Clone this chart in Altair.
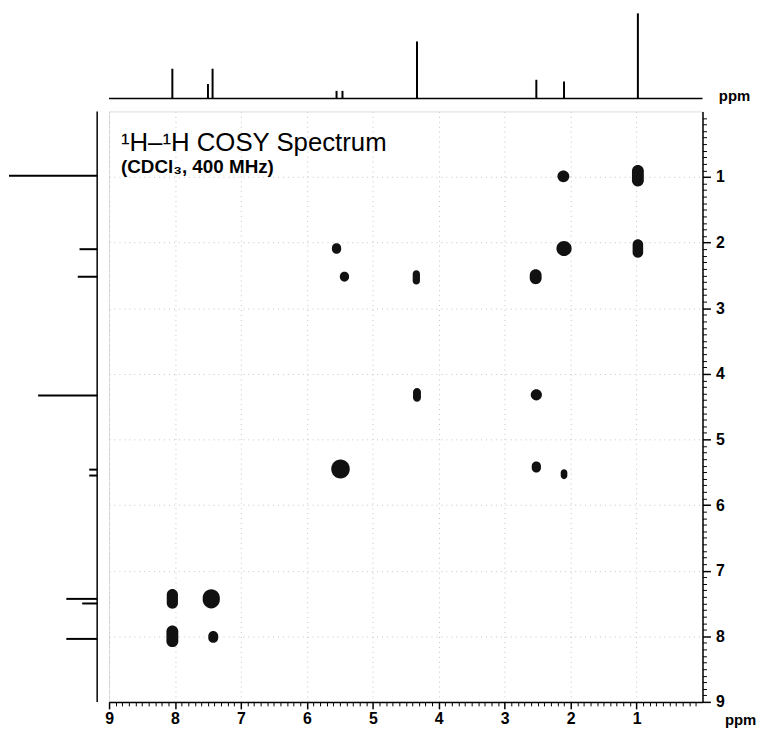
import altair as alt
import pandas as pd

# ---------------- data ----------------
# 1D projection spectrum: chemical shift (ppm) and relative intensity
peak_ppm = [8.04, 7.50, 7.43, 5.55, 5.46, 4.33, 2.52, 2.10, 0.98]
peak_int = [35, 17, 35, 9, 9, 67, 22, 20, 100]
spec_range = [9.0, 0.0]

# COSY cross peaks: F2 shift (x), F1 shift (y), contour extent in ppm
cp_f2 = [0.98, 2.11, 2.10, 0.98, 2.53, 5.55, 5.43, 4.34, 4.33, 2.52, 5.49, 2.52, 2.10, 8.04, 7.45, 8.04, 7.42]
cp_f1 = [0.98, 0.99, 2.09, 2.09, 2.52, 2.09, 2.52, 2.53, 4.32, 4.32, 5.45, 5.42, 5.53, 7.43, 7.43, 8.00, 8.01]
cp_wx = [0.18, 0.18, 0.23, 0.16, 0.18, 0.14, 0.14, 0.11, 0.12, 0.17, 0.28, 0.14, 0.10, 0.17, 0.26, 0.18, 0.15]
cp_wy = [0.33, 0.18, 0.23, 0.28, 0.23, 0.16, 0.15, 0.22, 0.21, 0.17, 0.29, 0.17, 0.15, 0.30, 0.29, 0.33, 0.18]

major_ticks = [1, 2, 3, 4, 5, 6, 7, 8, 9]
minor_ticks = [round(i * 0.1, 1) for i in range(1, 90) if i % 10 != 0]

title_text = "\u00b9H\u2013\u00b9H COSY Spectrum"
subtitle_text = "(CDCl\u2083, 400 MHz)"

# ---------------- layout ----------------
W, H = 599, 596
FONT = "Liberation Sans"

# top projection: baseline 13 px above plot, 0.86 px per intensity unit
k_top, base_top = 0.86, 13
top_lo = -(base_top + H) / k_top
top_hi = -base_top / k_top
# left projection: baseline 12 px left of plot, 0.89 px per intensity unit
k_left, base_left = 0.89, 12
left_hi = -base_left / k_left
left_lo = left_hi - W / k_left

xs_main = alt.Scale(domain=[0, 9], reverse=True, nice=False, zero=False)
ys_main = alt.Scale(domain=[0, 9], reverse=True, nice=False, zero=False)

axis_common = dict(
    labelFont=FONT, labelFontSize=16, labelFontWeight="bold", labelColor="black",
    labelFlush=False, labelOverlap=False, format="d",
    tickColor="black", tickWidth=1.5, domainColor="black", domainWidth=1.5,
    grid=True, gridColor="#c4c4c4", gridDash=[1, 4], gridWidth=1,
)
major_x_axis = alt.Axis(
    orient="bottom", values=major_ticks, tickSize=7, labelPadding=2,
    title="ppm", titleFont=FONT, titleFontSize=15, titleFontWeight="bold", titleColor="black",
    titleX=W + 38, titleY=18, titleAlign="center", titleBaseline="middle", titleAngle=0,
    **axis_common,
)
major_y_axis = alt.Axis(
    orient="right", values=major_ticks, tickSize=8, labelPadding=5, title=None,
    **axis_common,
)
minor_x_axis = alt.Axis(orient="bottom", values=minor_ticks, tickSize=4, tickColor="black",
                        tickWidth=1, labels=False, domain=False, grid=False, title=None)
minor_y_axis = alt.Axis(orient="right", values=minor_ticks, tickSize=4, tickColor="black",
                        tickWidth=1, labels=False, domain=False, grid=False, title=None)

cp_df = pd.DataFrame({"f2": cp_f2, "f1": cp_f1, "wx": cp_wx, "wy": cp_wy})
spec_df = pd.DataFrame({"ppm": peak_ppm, "inten": peak_int})
base_df = pd.DataFrame({"start": [spec_range[0]], "end": [spec_range[1]]})

# ---------------- 2D COSY map ----------------
minor = alt.Chart(cp_df).mark_point(opacity=0).encode(
    x=alt.X("f2:Q", scale=xs_main, axis=minor_x_axis),
    y=alt.Y("f1:Q", scale=ys_main, axis=minor_y_axis),
)
cross = alt.Chart(cp_df).transform_calculate(
    xa="datum.f2 - datum.wx / 2", xb="datum.f2 + datum.wx / 2",
    ya="datum.f1 - datum.wy / 2", yb="datum.f1 + datum.wy / 2",
).mark_rect(color="#111111", cornerRadius=20).encode(
    x=alt.X("xa:Q", scale=xs_main, axis=major_x_axis),
    x2="xb:Q",
    y=alt.Y("ya:Q", scale=ys_main, axis=major_y_axis),
    y2="yb:Q",
)
inner = alt.layer(minor, cross).resolve_axis(x="independent", y="independent")

# ---------------- top projection ----------------
top_ys = alt.Scale(domain=[top_lo, top_hi], nice=False, zero=False)
top_axis = alt.Axis(orient="top", labels=False, ticks=False, domain=False, grid=False,
                    title="ppm", titleFont=FONT, titleFontSize=15, titleFontWeight="bold",
                    titleColor="black", titleX=W + 16, titleY=-16, titleAlign="left",
                    titleBaseline="middle", titleAngle=0)
top_sticks = alt.Chart(spec_df).transform_calculate(base="0").mark_rule(
    color="black", strokeWidth=2).encode(
    x=alt.X("ppm:Q", scale=xs_main, axis=top_axis),
    y=alt.Y("base:Q", scale=top_ys, axis=None),
    y2="inten:Q",
)
top_base = alt.Chart(base_df).transform_calculate(lvl="0").mark_rule(
    color="black", strokeWidth=1.5).encode(
    x=alt.X("start:Q", scale=xs_main, axis=top_axis),
    x2="end:Q",
    y=alt.Y("lvl:Q", scale=top_ys, axis=None),
)
top = alt.layer(top_base, top_sticks)

# ---------------- left projection ----------------
left_xs = alt.Scale(domain=[left_lo, left_hi], reverse=True, nice=False, zero=False)
left_sticks = alt.Chart(spec_df).transform_calculate(base="0").mark_rule(
    color="black", strokeWidth=2).encode(
    y=alt.Y("ppm:Q", scale=ys_main, axis=None),
    x=alt.X("base:Q", scale=left_xs, axis=None),
    x2="inten:Q",
)
left_base = alt.Chart(base_df).transform_calculate(lvl="0").mark_rule(
    color="black", strokeWidth=1.5).encode(
    y=alt.Y("start:Q", scale=ys_main, axis=None),
    y2="end:Q",
    x=alt.X("lvl:Q", scale=left_xs, axis=None),
)
left = alt.layer(left_base, left_sticks)

chart = alt.layer(inner, top, left).resolve_scale(
    x="independent", y="independent"
).properties(
    width=W, height=H,
    padding={"left": 0, "top": 0, "right": 0, "bottom": 0},
    title=alt.Title(
        text=title_text, subtitle=subtitle_text,
        anchor="start", frame="group", orient="top", offset=0,
        dx=12, dy=166,
        font=FONT, fontSize=26, fontWeight="normal", color="black",
        subtitleFont=FONT, subtitleFontSize=19, subtitleFontWeight="bold",
        subtitleColor="black", subtitlePadding=2,
    ),
).configure_view(stroke="black", strokeWidth=1.5).configure(font=FONT, background="white")

chart.save("out.html", embed_options={"renderer": "svg", "actions": False})
